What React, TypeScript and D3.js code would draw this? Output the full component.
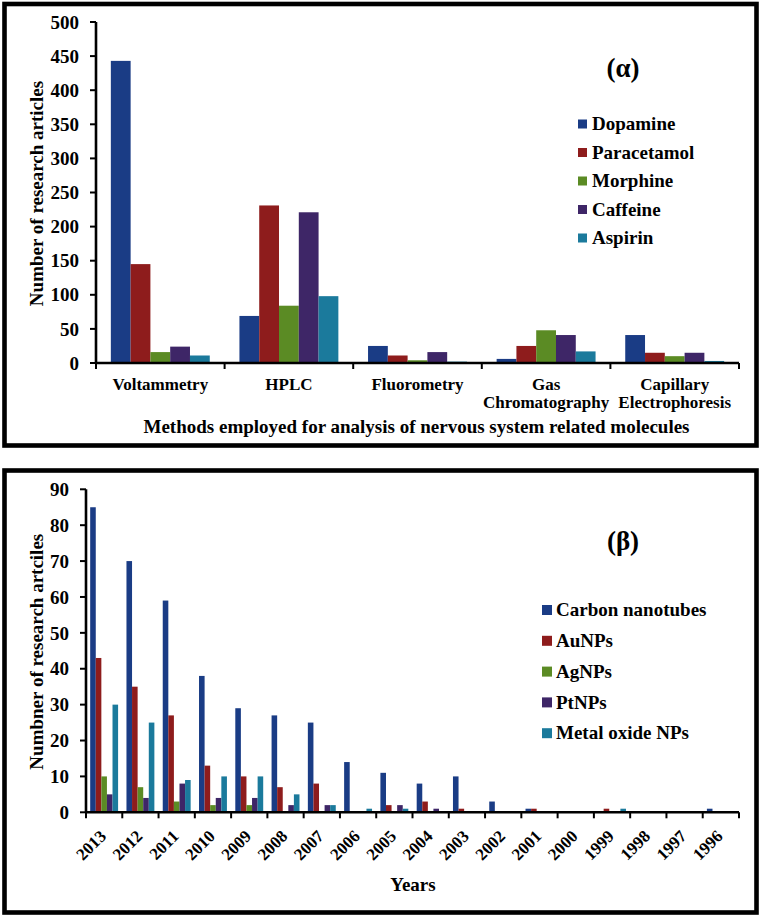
import React from 'react';
import * as d3 from 'd3';

// ---------- Panel (α) data ----------
const methods = ['Voltammetry', 'HPLC', 'Fluorometry', 'Gas Chromatography', 'Capillary Electrophoresis'];
const methodLabelLines = [['Voltammetry'], ['HPLC'], ['Fluorometry'], ['Gas', 'Chromatography'], ['Capillary', 'Electrophoresis']];
const molecules = ['Dopamine', 'Paracetamol', 'Morphine', 'Caffeine', 'Aspirin'];
const dopamine = [443, 69, 25, 6, 41];
const paracetamol = [145, 231, 11, 25, 15];
const morphine = [16, 84, 4, 48, 10];
const caffeine = [24, 221, 16, 41, 15];
const aspirin = [11, 98, 2, 17, 3];
const topTicks = [0, 50, 100, 150, 200, 250, 300, 350, 400, 450, 500];

// ---------- Panel (β) data ----------
const years = ['2013', '2012', '2011', '2010', '2009', '2008', '2007', '2006', '2005', '2004', '2003', '2002', '2001', '2000', '1999', '1998', '1997', '1996'];
const nanomaterials = ['Carbon nanotubes', 'AuNPs', 'AgNPs', 'PtNPs', 'Metal oxide NPs'];
const carbonNanotubes = [85, 70, 59, 38, 29, 27, 25, 14, 11, 8, 10, 3, 1, 0, 0, 0, 0, 1];
const auNPs = [43, 35, 27, 13, 10, 7, 8, 0, 2, 3, 1, 0, 1, 0, 1, 0, 0, 0];
const agNPs = [10, 7, 3, 2, 2, 0, 0, 0, 0, 0, 0, 0, 0, 0, 0, 0, 0, 0];
const ptNPs = [5, 4, 8, 4, 4, 2, 2, 0, 2, 1, 0, 0, 0, 0, 0, 0, 0, 0];
const metalOxideNPs = [30, 25, 9, 10, 10, 5, 2, 1, 1, 0, 0, 0, 0, 0, 1, 0, 0, 0];
const bottomTicks = [0, 10, 20, 30, 40, 50, 60, 70, 80, 90];

const seriesColors = ['#1a3c85', '#8e1c1c', '#5b8b24', '#3e2667', '#1b7a9c'];

const FONT = '"Liberation Serif", "Times New Roman", Times, serif';

export default function App() {
  // ----- top chart scales -----
  const topValues = [dopamine, paracetamol, morphine, caffeine, aspirin];
  const tx = d3.scaleBand<string>().domain(methods).range([96, 739]).paddingInner(0).paddingOuter(0);
  const txInner = d3.scaleBand<string>().domain(molecules).range([0, tx.bandwidth()]).paddingInner(0).paddingOuter(0.75);
  const ty = d3.scaleLinear().domain([0, 500]).range([363, 22]);

  // ----- bottom chart scales -----
  const botValues = [carbonNanotubes, auNPs, agNPs, ptNPs, metalOxideNPs];
  const bx = d3.scaleBand<string>().domain(years).range([86, 739]).paddingInner(0).paddingOuter(0);
  const bxInner = d3.scaleBand<string>().domain(nanomaterials).range([0, bx.bandwidth()]).paddingInner(0).paddingOuter(0.75);
  const by = d3.scaleLinear().domain([0, 90]).range([812.3, 489.3]);

  const axisW = 2.6;

  return (
    <svg
      width={761}
      height={918}
      style={{ position: 'absolute', left: 0, top: 0, background: '#fff' }}
      fontFamily={FONT}
      fontWeight="bold"
    >
      <rect x={0} y={0} width={761} height={918} fill="#fff" />

      {/* ===== Panel α ===== */}
      <rect x={4.5} y={4} width={752} height={441.5} fill="none" stroke="#000" strokeWidth={4.6} />

      {/* bars */}
      {molecules.map((m, si) => (
        <g key={m} fill={seriesColors[si]}>
          {methods.map((c, ci) => (
            <rect
              key={c}
              x={(tx(c) as number) + (txInner(m) as number)}
              y={ty(topValues[si][ci])}
              width={txInner.bandwidth()}
              height={ty(0) - ty(topValues[si][ci])}
            />
          ))}
        </g>
      ))}

      {/* y axis */}
      <line x1={96} x2={96} y1={ty(500)} y2={ty(0)} stroke="#000" strokeWidth={axisW} />
      {topTicks.map((t) => (
        <g key={t}>
          <line x1={90} x2={96} y1={ty(t)} y2={ty(t)} stroke="#000" strokeWidth={2} />
          <text x={79} y={ty(t)} dy="0.35em" textAnchor="end" fontSize={19}>
            {t}
          </text>
        </g>
      ))}
      {/* x axis */}
      <line x1={96} x2={739} y1={ty(0)} y2={ty(0)} stroke="#000" strokeWidth={axisW} />
      {methods.concat(['__end']).map((c, i) => {
        const xx = i < methods.length ? (tx(c) as number) : 739;
        return <line key={c} x1={xx} x2={xx} y1={ty(0)} y2={ty(0) + 6} stroke="#000" strokeWidth={2} />;
      })}
      {methods.map((c, i) => (
        <text key={c} x={(tx(c) as number) + tx.bandwidth() / 2} y={390} textAnchor="middle" fontSize={17}>
          {methodLabelLines[i].map((ln, li) => (
            <tspan key={li} x={(tx(c) as number) + tx.bandwidth() / 2} y={390 + li * 18}>
              {ln}
            </tspan>
          ))}
        </text>
      ))}

      <text x={416.5} y={433} textAnchor="middle" fontSize={19}>
        Methods employed for analysis of nervous system related molecules
      </text>
      <text transform="translate(43,193.5) rotate(-90)" textAnchor="middle" fontSize={19}>
        Number of research articles
      </text>
      <text x={623} y={77} textAnchor="middle" fontSize={27}>
        (α)
      </text>

      {/* legend α */}
      {molecules.map((m, i) => {
        const cy = 124 + i * 28.5;
        return (
          <g key={m}>
            <rect x={578} y={cy - 4.5} width={9} height={9} fill={seriesColors[i]} />
            <text x={592} y={cy} dy="0.33em" fontSize={19}>
              {m}
            </text>
          </g>
        );
      })}

      {/* ===== Panel β ===== */}
      <rect x={4.5} y={470.5} width={752} height={442} fill="none" stroke="#000" strokeWidth={4.6} />

      {nanomaterials.map((m, si) => (
        <g key={m} fill={seriesColors[si]}>
          {years.map((c, ci) => (
            <rect
              key={c}
              x={(bx(c) as number) + (bxInner(m) as number)}
              y={by(botValues[si][ci])}
              width={bxInner.bandwidth()}
              height={by(0) - by(botValues[si][ci])}
            />
          ))}
        </g>
      ))}

      <line x1={86} x2={86} y1={by(90)} y2={by(0)} stroke="#000" strokeWidth={axisW} />
      {bottomTicks.map((t) => (
        <g key={t}>
          <line x1={80} x2={86} y1={by(t)} y2={by(t)} stroke="#000" strokeWidth={2} />
          <text x={69} y={by(t)} dy="0.35em" textAnchor="end" fontSize={19}>
            {t}
          </text>
        </g>
      ))}
      <line x1={86} x2={739} y1={by(0)} y2={by(0)} stroke="#000" strokeWidth={axisW} />
      {years.concat(['__end']).map((c, i) => {
        const xx = i < years.length ? (bx(c) as number) : 739;
        return <line key={c} x1={xx} x2={xx} y1={by(0)} y2={by(0) + 6} stroke="#000" strokeWidth={2} />;
      })}
      {years.map((c) => {
        const px = (bx(c) as number) + bx.bandwidth() / 2 + 3;
        const py = by(0) + 25;
        return (
          <text key={c} transform={`translate(${px},${py}) rotate(-45)`} textAnchor="end" fontSize={17}>
            {c}
          </text>
        );
      })}

      <text x={413} y={891} textAnchor="middle" fontSize={19}>
        Years
      </text>
      <text transform="translate(43,651.7) rotate(-90)" textAnchor="middle" fontSize={19}>
        Numbner of research artciles
      </text>
      <text x={623} y={550} textAnchor="middle" fontSize={27}>
        (β)
      </text>

      {nanomaterials.map((m, i) => {
        const cy = 610 + i * 30.8;
        return (
          <g key={m}>
            <rect x={542} y={cy - 5} width={10} height={10} fill={seriesColors[i]} />
            <text x={556} y={cy} dy="0.33em" fontSize={19}>
              {m}
            </text>
          </g>
        );
      })}
    </svg>
  );
}
